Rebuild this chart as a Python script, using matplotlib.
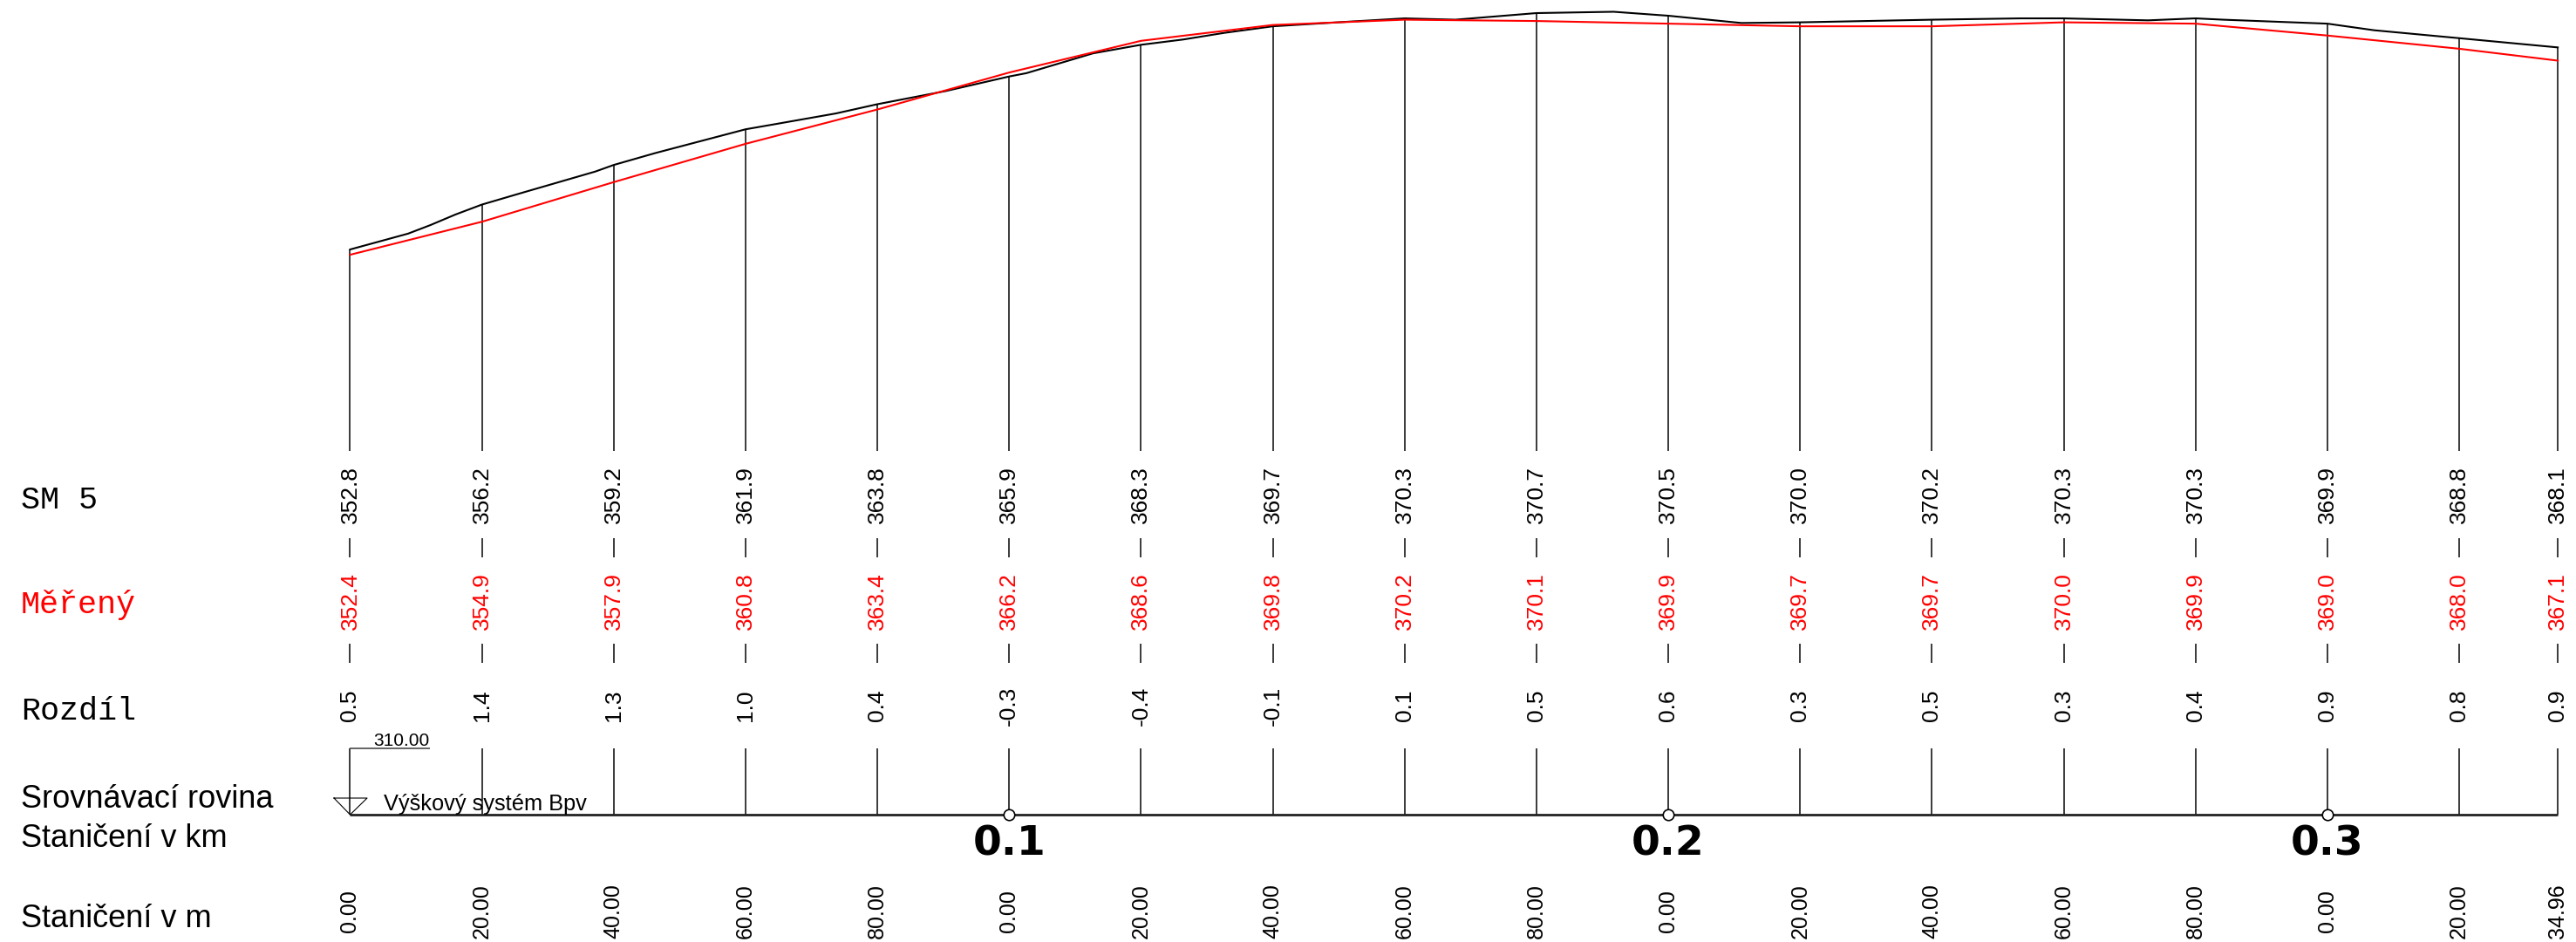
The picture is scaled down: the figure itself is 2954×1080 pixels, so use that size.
#!/usr/bin/env python3
"""Longitudinal profile: terrain (SM 5) vs measured line, with the data table below."""
import matplotlib
matplotlib.use("Agg")
import matplotlib.pyplot as plt

# --- data ----------------------------------------------------------------
stations = [0, 20, 40, 60, 80, 100, 120, 140, 160, 180, 200, 220, 240, 260,
            280, 300, 320, 334.96]
sm5 = [352.8, 356.2, 359.2, 361.9, 363.8, 365.9, 368.3, 369.7, 370.3, 370.7,
       370.5, 370.0, 370.2, 370.3, 370.3, 369.9, 368.8, 368.1]
mereny = [352.4, 354.9, 357.9, 360.8, 363.4, 366.2, 368.6, 369.8, 370.2, 370.1,
          369.9, 369.7, 369.7, 370.0, 369.9, 369.0, 368.0, 367.1]
rozdil = [0.5, 1.4, 1.3, 1.0, 0.4, -0.3, -0.4, -0.1, 0.1, 0.5, 0.6, 0.3, 0.5,
          0.3, 0.4, 0.9, 0.8, 0.9]
m_labels = ["0.00", "20.00", "40.00", "60.00", "80.00", "0.00", "20.00",
            "40.00", "60.00", "80.00", "0.00", "20.00", "40.00", "60.00",
            "80.00", "0.00", "20.00", "34.96"]
km_pos = [100, 200, 300]
km_labels = ["0.1", "0.2", "0.3"]

# terrain line (SM 5) incl. break points between stations
terrain_dist = [0, 8.8, 12.2, 16.0, 20, 25.8, 37.2, 40, 46.3, 60, 64.6, 73.7,
                80, 90.4, 100, 102.6, 112.7, 120, 126.4, 132.6, 140, 151.5,
                160, 167.7, 180, 191.7, 200, 211.1, 220, 240, 253.4, 260,
                272.8, 280, 284.2, 300, 307.1, 320, 334.96]
terrain_elev = [352.8, 354.0, 354.65, 355.45, 356.2, 357.05, 358.7, 359.2,
                360.1, 361.9, 362.3, 363.1, 363.8, 364.8, 365.9, 366.15,
                367.65, 368.3, 368.7, 369.2, 369.7, 370.05, 370.3, 370.2,
                370.7, 370.8, 370.5, 369.95, 370.0, 370.2, 370.3, 370.3,
                370.15, 370.3, 370.2, 369.9, 369.4, 368.8, 368.1]

datum = 310.0

# --- drawing scale (pixels of the 2954x1080 sheet) ------------------------
W, H, DPI = 2954, 1080, 100
X_ORIGIN, PX_PER_M = 401.5, 7.558      # horizontal
Y_DATUM, PX_PER_H = 934.0, 15.14       # vertical (exaggerated)


def px_x(p):
    return (p - X_ORIGIN) / PX_PER_M


def px_y(p):
    return datum + (Y_DATUM - p) / PX_PER_H


fig = plt.figure(figsize=(W / DPI, H / DPI), dpi=DPI)
ax = fig.add_axes([0, 0, 1, 1])
ax.set_xlim(px_x(0), px_x(W))
ax.set_ylim(px_y(H), px_y(0))
ax.axis("off")

GRID = "#3a3a3a"
SANS = "Liberation Sans"
MONO = "Liberation Mono"

# profile lines
ax.plot(terrain_dist, terrain_elev, color="black", lw=1.5, zorder=3)
ax.plot(stations, mereny, color="red", lw=1.5, zorder=4)

# station verticals, interrupted by the table rows
ax.vlines(stations, px_y(517), sm5, color=GRID, lw=1.4)
ax.vlines(stations, px_y(639), px_y(617), color=GRID, lw=1.4)
ax.vlines(stations, px_y(760), px_y(738), color=GRID, lw=1.4)
ax.vlines(stations, datum, px_y(858), color=GRID, lw=1.4)
ax.hlines(px_y(858), stations[0], px_x(493), color=GRID, lw=1.1)
ax.hlines(datum, stations[0], stations[-1], color="#222222", lw=2.0)
ax.plot(km_pos, [datum] * len(km_pos), "o", ms=9, mfc="white", mec="black",
        mew=1.2, zorder=5)

# datum symbol
tri_x = [px_x(383), px_x(421), stations[0], px_x(383)]
tri_y = [px_y(915), px_y(915), datum, px_y(915)]
ax.plot(tri_x, tri_y, color="black", lw=0.8)
ax.text(px_x(428), px_y(855.5), f"{datum:.2f}", fontsize=15, family=SANS,
        ha="left", va="baseline")
ax.text(px_x(440), px_y(929), "Výškový systém Bpv", fontsize=18.3,
        family=SANS, ha="left", va="baseline")

# table values
for x, a, b, d, m in zip(stations, sm5, mereny, rozdil, m_labels):
    ax.text(x, px_y(567), f"{a:.1f}", rotation=90, ha="center", va="center",
            fontsize=19, family=SANS)
    ax.text(x, px_y(689), f"{b:.1f}", rotation=90, ha="center", va="center",
            fontsize=19, family=SANS, color="red")
    ax.text(x, px_y(809), f"{d:.1f}", rotation=90, ha="center", va="center",
            fontsize=19, family=SANS)
    ax.text(x, px_y(1045), m, rotation=90, ha="center", va="center",
            fontsize=18, family=SANS)

for x, lab in zip(km_pos, km_labels):
    ax.text(x, px_y(981), lab, ha="center", va="baseline", fontsize=34,
            family="DejaVu Sans", fontweight="bold")

# row captions
ax.text(px_x(24), px_y(583), "SM 5", fontsize=26.5, family=MONO, va="baseline")
ax.text(px_x(24), px_y(703), "Měřený", fontsize=26.5, family=MONO,
        va="baseline", color="red")
ax.text(px_x(24), px_y(825), "Rozdíl", fontsize=26.5, family=MONO, va="baseline")
ax.text(px_x(24), px_y(926.5), "Srovnávací rovina", fontsize=26, family=SANS,
        va="baseline")
ax.text(px_x(24), px_y(971.5), "Staničení v km", fontsize=26, family=SANS,
        va="baseline")
ax.text(px_x(24), px_y(1063.5), "Staničení v m", fontsize=26, family=SANS,
        va="baseline")

fig.savefig("out.png", dpi=DPI, facecolor="white")
print("wrote out.png")
